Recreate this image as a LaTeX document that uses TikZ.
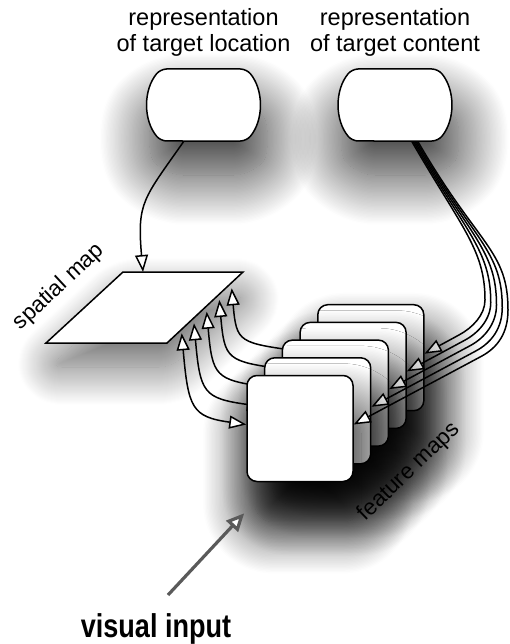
\documentclass[tikz,border=0pt]{standalone}
\usepackage{fontspec}
\setmainfont{Liberation Sans}
\newfontfamily\inputfont{Liberation Sans}[FakeStretch=0.82]
\usetikzlibrary{arrows.meta,shapes.misc,shadows.blur}
\definecolor{inputgray}{RGB}{90,90,90}

\begin{document}
\begin{tikzpicture}[x=1pt,y=1pt,line width=1.5pt,label distance=11pt,
    >={Triangle[fill=white,length=17pt,width=13pt]}]
    \tikzstyle{every label}=[inner sep=0pt,align=center,font=\fontsize{23.5}{26}\selectfont];
    \tikzstyle{cue}=[draw,fill=white,rounded rectangle,rounded rectangle arc length=80,rounded corners=6pt,
        minimum width=107pt,minimum height=72pt,inner sep=0pt,
        blur shadow={shadow xshift=5pt,shadow yshift=-34pt,shadow blur radius=50pt,shadow opacity=80,
        shadow blur steps=40,shadow blur extra rounding=18pt}];
    \tikzstyle{fmap}=[draw,fill=white,rounded corners=10pt,minimum size=106pt,inner sep=0pt,
        blur shadow={shadow xshift=8pt,shadow yshift=-40pt,shadow blur radius=52pt,shadow opacity=95,
        shadow blur steps=40,shadow blur extra rounding=18pt}];
    \tikzstyle{smap}=[draw,fill=white,blur shadow={shadow xshift=4pt,shadow yshift=-24pt,shadow blur radius=38pt,
        shadow opacity=60,shadow blur steps=40,shadow blur extra rounding=12pt}];
    \tikzstyle{mapname}=[font=\fontsize{22.5}{26}\selectfont];
    \tikzstyle{eye}=[draw=inputgray,line width=3.2pt,-{Triangle[fill=white,length=18pt,width=16pt]}];
    \useasboundingbox (0,0) rectangle (509,-644);

    % top: the two cue representations
    \node at (203.5,-105) (loc)  [cue,label=above:{representation\\of target location}] {};
    \node at (395,-105)   (cont) [cue,label=above:{representation\\of target content}] {};

    % spatial map
    \draw[smap] (46,-343) -- (123,-272) -- (243,-272) -- (167,-343) -- cycle;
    \coordinate (sm) at (143,-272);
    \coordinate (t0) at (181.7,-333.3);
    \coordinate (t1) at (194,-323.3);
    \coordinate (t2) at (206.7,-311.7);
    \coordinate (t3) at (219.3,-300);
    \coordinate (t4) at (231.7,-288.3);
    \node at (59,-287) (smlbl) [mapname,rotate=43] {spatial map};
    \draw[->] ([xshift=-20pt]loc.south) .. controls +(235:70) and +(95:70) .. (sm);

    % feature maps, back to front
    \node at (370.8,-357.7) (fm4) [fmap] {};
    \draw[<->] ([yshift=4pt]fm4.west) .. controls +(172:79) and +(-85:55) .. (t4);
    \draw[->] ([xshift=17pt]cont.south) .. controls +(-60:100) and +(90:50) .. (485,-300)
        .. controls +(-90:15) and +(28:15) .. (459.1,-334.9) -- ([yshift=4pt]fm4.east);

    \node at (353.1,-375.4) (fm3) [fmap] {};
    \draw[<->] ([yshift=4pt]fm3.west) .. controls +(172:73) and +(-85:60) .. (t3);
    \draw[->] ([xshift=18.5pt]cont.south) .. controls +(-60:105) and +(90:52.5) .. (490.75,-302.5)
        .. controls +(-90:16.5) and +(28:16) .. (464.6,-340.3) -- ([yshift=4pt]fm3.east);

    \node at (335.4,-393.1) (fm2) [fmap] {};
    \draw[<->] ([yshift=4pt]fm2.west) .. controls +(172:67) and +(-85:65) .. (t2);
    \draw[->] ([xshift=20pt]cont.south) .. controls +(-60:110) and +(90:55) .. (496.5,-305)
        .. controls +(-90:18) and +(28:17) .. (470.1,-345.7) -- ([yshift=4pt]fm2.east);

    \node at (317.7,-410.8) (fm1) [fmap] {};
    \draw[<->] ([yshift=4pt]fm1.west) .. controls +(172:61) and +(-85:70) .. (t1);
    \draw[->] ([xshift=21.5pt]cont.south) .. controls +(-60:115) and +(90:57.5) .. (502.25,-307.5)
        .. controls +(-90:20) and +(28:19) .. (475.6,-351.1) -- ([yshift=4pt]fm1.east);

    \node at (300,-428.5) (fm0) [fmap] {};
    \draw[<->] ([yshift=4pt]fm0.west) .. controls +(172:55) and +(-85:75) .. (t0);
    \draw[->] ([xshift=23pt]cont.south) .. controls +(-60:120) and +(90:60) .. (508,-310)
        .. controls +(-90:22) and +(28:20) .. (481,-356.5) -- ([yshift=4pt]fm0.east);

    \node at (409,-472) (fmlbl) [mapname,rotate=44] {feature maps};

    % visual input
    \node at (156,-637) (vis) [anchor=base,font=\inputfont\bfseries\fontsize{33}{36}\selectfont] {visual input};
    \draw[eye] ([xshift=12pt,yshift=14pt]vis.north) -- ([xshift=-2pt,yshift=-31pt]fm0.south west);
\end{tikzpicture}
\end{document}
